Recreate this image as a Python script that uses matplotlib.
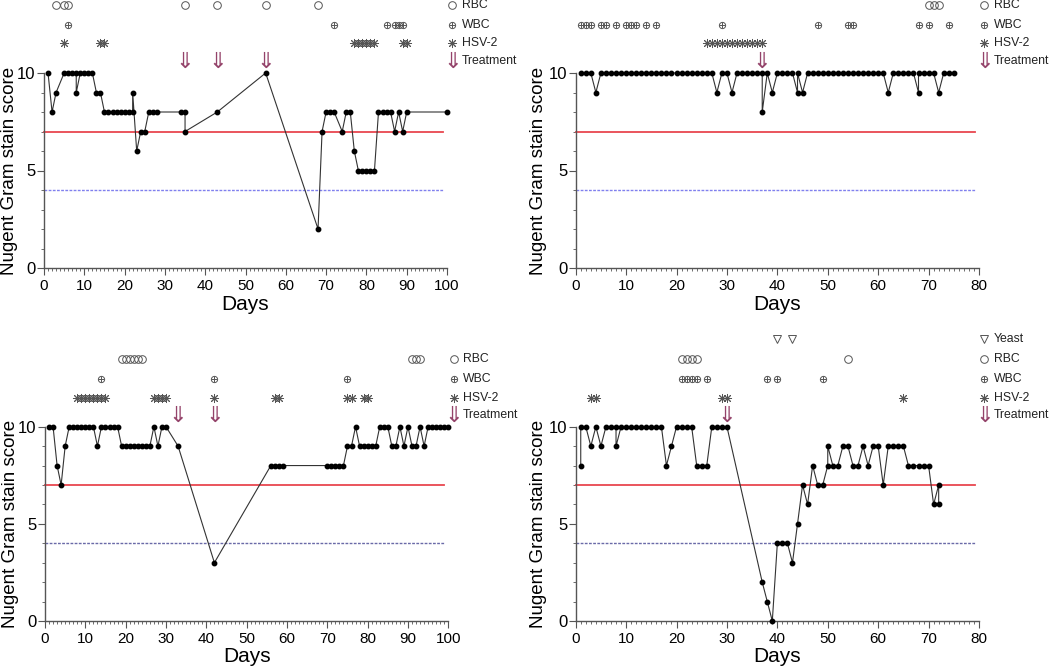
import matplotlib
matplotlib.use("Agg")
import matplotlib.pyplot as plt
from matplotlib.ticker import MultipleLocator
from matplotlib.transforms import blended_transform_factory

plt.rcParams['font.family'] = ['Liberation Sans', 'DejaVu Sans']

# ---- panel 1 (top left) ----
days1 = [1, 2, 3, 5, 6, 7, 8, 8, 9, 10, 11, 12, 13, 14, 15, 16, 17, 18, 19, 20, 21, 22, 22,
         23, 24, 25, 26, 27, 28, 34, 35, 35, 43, 55, 68, 69, 70, 71, 72, 74, 75, 76, 77,
         78, 79, 80, 81, 82, 83, 84, 85, 86, 87, 88, 89, 90, 100]
score1 = [10, 8, 9, 10, 10, 10, 10, 9, 10, 10, 10, 10, 9, 9, 8, 8, 8, 8, 8, 8, 8, 8, 9,
          6, 7, 7, 8, 8, 8, 8, 8, 7, 8, 10, 2, 7, 8, 8, 8, 7, 8, 8, 6,
          5, 5, 5, 5, 5, 8, 8, 8, 8, 7, 8, 7, 8, 8]
rbc1 = [3, 5, 6, 35, 43, 55, 68]
wbc1 = [6, 72, 85, 87, 88, 89]
hsv1 = [5, 14, 15, 77, 78, 79, 80, 81, 82, 89, 90]
treat1 = [35, 43, 55]

# ---- panel 2 (top right) ----
days2 = [1, 2, 3, 4, 5, 6, 7, 8, 9, 10, 11, 12, 13, 14, 15, 16, 17, 18, 19, 20, 21, 22, 23,
         24, 25, 26, 27, 28, 29, 30, 31, 32, 33, 34, 35, 36, 37, 37, 38, 39, 40, 41, 42, 43,
         44, 44, 45, 46, 47, 48, 49, 50, 51, 52, 53, 54, 55, 56, 57, 58, 59, 60, 61, 62,
         63, 64, 65, 66, 67, 68, 68, 69, 70, 71, 72, 73, 74, 75]
score2 = [10, 10, 10, 9, 10, 10, 10, 10, 10, 10, 10, 10, 10, 10, 10, 10, 10, 10, 10, 10, 10, 10, 10,
          10, 10, 10, 10, 9, 10, 10, 9, 10, 10, 10, 10, 10, 10, 8, 10, 9, 10, 10, 10, 10,
          9, 10, 9, 10, 10, 10, 10, 10, 10, 10, 10, 10, 10, 10, 10, 10, 10, 10, 10, 9,
          10, 10, 10, 10, 10, 9, 10, 10, 10, 10, 9, 10, 10, 10]
rbc2 = [70, 71, 72]
wbc2 = [1, 2, 3, 5, 6, 8, 10, 11, 12, 14, 16, 29, 48, 54, 55, 68, 70, 74]
hsv2 = [26, 27, 28, 29, 30, 31, 32, 33, 34, 35, 36, 37]
treat2 = [37]

# ---- panel 3 (bottom left) ----
days3 = [1, 2, 3, 4, 5, 6, 7, 8, 9, 10, 11, 12, 13, 14, 15, 16, 17, 18, 19, 20, 21, 22, 23,
         24, 25, 26, 27, 28, 29, 30, 33, 42, 56, 57, 58, 59, 70, 71, 72, 73, 74, 75, 76, 77,
         78, 79, 80, 81, 82, 83, 84, 85, 86, 87, 88, 89, 90, 91, 92, 93, 94, 95, 96, 97,
         98, 99, 100]
score3 = [10, 10, 8, 7, 9, 10, 10, 10, 10, 10, 10, 10, 9, 10, 10, 10, 10, 10, 9, 9, 9, 9, 9,
          9, 9, 9, 10, 9, 10, 10, 9, 3, 8, 8, 8, 8, 8, 8, 8, 8, 8, 9, 9, 10,
          9, 9, 9, 9, 9, 10, 10, 10, 9, 9, 10, 9, 10, 9, 9, 10, 9, 10, 10, 10,
          10, 10, 10]
rbc3 = [19, 20, 21, 22, 23, 24, 91, 92, 93]
wbc3 = [14, 42, 75]
hsv3 = [8, 9, 10, 11, 12, 13, 14, 15, 27, 28, 29, 30, 42, 57, 58, 75, 76, 79, 80]
treat3 = [33, 42]

# ---- panel 4 (bottom right) ----
days4 = [1, 1, 2, 3, 4, 5, 6, 7, 8, 8, 9, 10, 11, 12, 13, 14, 15, 16, 17, 18, 19, 20, 21,
         22, 23, 24, 25, 26, 27, 28, 29, 30, 37, 38, 39, 40, 41, 42, 43, 44, 45, 46, 47,
         48, 49, 50, 50, 51, 52, 53, 54, 55, 56, 57, 58, 59, 60, 61, 62, 63, 64, 65, 66,
         67, 68, 69, 70, 71, 72, 72]
score4 = [8, 10, 10, 9, 10, 9, 10, 10, 10, 9, 10, 10, 10, 10, 10, 10, 10, 10, 10, 8, 9, 10, 10,
          10, 10, 8, 8, 8, 10, 10, 10, 10, 2, 1, 0, 4, 4, 4, 3, 5, 7, 6, 8,
          7, 7, 8, 9, 8, 8, 9, 9, 8, 8, 9, 8, 9, 9, 7, 9, 9, 9, 9, 8,
          8, 8, 8, 8, 6, 7, 6]
yeast4 = [40, 43]
rbc4 = [21, 22, 23, 24, 54]
wbc4 = [21, 22, 23, 24, 26, 38, 40, 49]
hsv4 = [3, 4, 29, 30, 65]
treat4 = [30]

ARROW_COLOR = '#94436a'
MARK_COLOR = '#555555'
ARROW_FONT = ['Noto Sans CJK JP', 'DejaVu Sans']
NAMES = {'yeast': 'Yeast', 'rbc': 'RBC', 'wbc': 'WBC', 'hsv': 'HSV-2'}


def draw_row(ax, xs, ys, kind, **extra):
    kw = dict(ls='none', clip_on=False, color=MARK_COLOR, mfc='none', mew=0.7)
    kw.update(extra)
    if kind == 'rbc':
        ax.plot(xs, ys, marker='o', ms=5.5, **kw)
    elif kind == 'wbc':
        ax.plot(xs, ys, marker='o', ms=4.5, **kw)
        ax.plot(xs, ys, marker='+', ms=4.5, **kw)
    elif kind == 'hsv':
        ax.plot(xs, ys, marker=(8, 2, 0), ms=6.5, **kw)
    elif kind == 'yeast':
        ax.plot(xs, ys, marker='v', ms=6, **kw)


def panel(ax, days, score, xmax, rows, treat, dot_color, label_x):
    ax.plot([0, xmax * 0.99], [7, 7], color='#e8474f', lw=1.3, clip_on=False)
    ax.plot([0, xmax * 0.99], [4, 4], color=dot_color, lw=1.0, ls=(0, (2, 1)), clip_on=False)
    ax.plot(days, score, color='#333333', lw=0.8, marker='o', ms=3.2,
            mfc='black', mec='black', clip_on=False, zorder=3)

    ax.set_xlim(0, xmax)
    ax.set_ylim(0, 10)
    ax.set_xticks(list(range(0, xmax + 1, 10)))
    ax.set_yticks([0, 5, 10])
    ax.xaxis.set_minor_locator(MultipleLocator(1))
    ax.yaxis.set_minor_locator(MultipleLocator(1))
    for s in ['top', 'right']:
        ax.spines[s].set_visible(False)
    for s in ['left', 'bottom']:
        ax.spines[s].set_color('#555555')
        ax.spines[s].set_linewidth(1.0)
    ax.tick_params(axis='both', which='major', length=5, color='#555555')
    ax.tick_params(axis='both', which='minor', length=2.5, color='#555555')
    ax.tick_params(axis='x', labelsize=11, pad=3)
    ax.tick_params(axis='y', labelsize=12, pad=1)
    ax.set_xlabel('Days', fontsize=15, labelpad=1)
    ax.set_ylabel('Nugent Gram stain score', fontsize=13.5)
    ax.yaxis.set_label_coords(label_x, 0.5)

    trans = blended_transform_factory(ax.transAxes, ax.transData)
    for kind, (xs, y) in rows.items():
        draw_row(ax, xs, [y] * len(xs), kind)
        draw_row(ax, [1.013], [y], kind, transform=trans)
        ax.text(1.037, y, NAMES[kind], transform=trans, ha='left', va='center',
                fontsize=8.8, color='#222222')

    ty = 10.6
    for t in treat:
        ax.text(t, ty, '\u21d3', ha='center', va='center', fontsize=16,
                color=ARROW_COLOR, family=ARROW_FONT)
    ax.text(1.013, ty, '\u21d3', transform=trans, ha='center', va='center', fontsize=16,
            color=ARROW_COLOR, family=ARROW_FONT)
    ax.text(1.037, ty, 'Treatment', transform=trans, ha='left', va='center',
            fontsize=8.8, color='#222222')


fig = plt.figure(figsize=(10.5, 6.71), dpi=100)
W, H = 1050.0, 671.0
ax1 = fig.add_axes([44 / W, 1 - 268 / H, 403 / W, 195 / H])
ax2 = fig.add_axes([575.7 / W, 1 - 268 / H, 403.3 / W, 195 / H])
ax3 = fig.add_axes([45 / W, 1 - 621 / H, 403.3 / W, 194.3 / H])
ax4 = fig.add_axes([575.7 / W, 1 - 621 / H, 403.3 / W, 194.3 / H])

panel(ax1, days1, score1, 100,
      {'rbc': (rbc1, 13.5), 'wbc': (wbc1, 12.47), 'hsv': (hsv1, 11.54)},
      treat1, '#8080ee', -0.064)
panel(ax2, days2, score2, 80,
      {'rbc': (rbc2, 13.5), 'wbc': (wbc2, 12.47), 'hsv': (hsv2, 11.54)},
      treat2, '#8080ee', -0.07)
panel(ax3, days3, score3, 100,
      {'rbc': (rbc3, 13.48), 'wbc': (wbc3, 12.45), 'hsv': (hsv3, 11.48)},
      treat3, '#6a6aa8', -0.064)
panel(ax4, days4, score4, 80,
      {'yeast': (yeast4, 14.51), 'rbc': (rbc4, 13.48), 'wbc': (wbc4, 12.45), 'hsv': (hsv4, 11.48)},
      treat4, '#6a6aa8', -0.07)

fig.savefig('out.png', dpi=100)
